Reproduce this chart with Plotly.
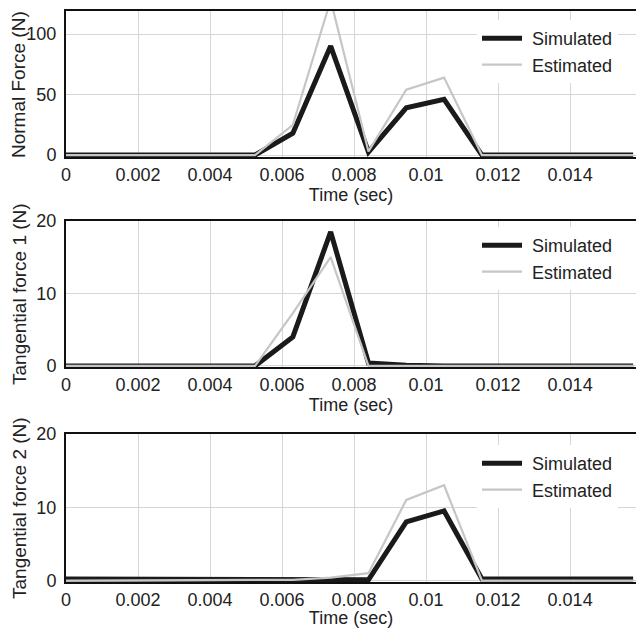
import plotly.graph_objects as go

time_s = [0.0, 0.00105, 0.0021, 0.00315, 0.0042, 0.00525, 0.0063, 0.00735,
          0.0084, 0.00945, 0.0105, 0.01155, 0.0126, 0.01365, 0.0147, 0.01575]

normal_sim = [0, 0, 0, 0, 0, 0, 18, 90, 2.5, 39, 46, 0, 0, 0, 0, 0]
normal_est = [0, 0, 0, 0, 0, 0, 25, 128, 3, 54, 64, 0, 0, 0, 0, 0]

tan1_sim = [0, 0, 0, 0, 0, 0, 4, 18.5, 0.4, 0.1, 0, 0, 0, 0, 0, 0]
tan1_est = [0, 0, 0, 0, 0, 0, 7.3, 15, 0, 0, 0, 0, 0, 0, 0, 0]

tan2_sim = [0.2, 0.2, 0.2, 0.2, 0.2, 0.2, 0.1, 0.1, 0.1, 8, 9.5, 0.2, 0.2, 0.2, 0.2, 0.2]
tan2_est = [0, 0, 0, 0, 0, 0, 0.1, 0.4, 1.0, 11, 13, 0, 0, 0, 0, 0]

x_ticks = [0, 0.002, 0.004, 0.006, 0.008, 0.01, 0.012, 0.014]
x_ticklabels = ["0", "0.002", "0.004", "0.006", "0.008", "0.01", "0.012", "0.014"]

y_titles = ["Normal Force (N)", "Tangential force 1 (N)", "Tangential force 2 (N)"]
y_ticks = [[0, 50, 100], [0, 10, 20], [0, 10, 20]]
y_ranges = [[-1.6, 119], [-0.15, 20], [-0.2, 20]]
series_names = ["Simulated", "Estimated"]

W, H = 636, 628
L = 66
panel_px = [(11, 157), (221, 367), (434, 582)]  # top, bottom in px
legend_top_px = [20, 227, 445]

FONT = "Liberation Sans, Arial, Helvetica, sans-serif"
SIM_COLOR = "#1a1a1a"
EST_COLOR = "#c6c6c6"
TXT = "#222"

series = [(normal_sim, normal_est), (tan1_sim, tan1_est), (tan2_sim, tan2_est)]

fig = go.Figure()
for i, (sim, est) in enumerate(series):
    n = "" if i == 0 else str(i + 1)
    leg = "legend" if i == 0 else f"legend{i + 1}"
    fig.add_trace(go.Scatter(x=time_s, y=sim, mode="lines", name="\u00a0" + series_names[0],
                             line=dict(color=SIM_COLOR, width=5),
                             xaxis=f"x{n}", yaxis=f"y{n}", legend=leg))
    fig.add_trace(go.Scatter(x=time_s, y=est, mode="lines", name="\u00a0" + series_names[1],
                             line=dict(color=EST_COLOR, width=2.2),
                             xaxis=f"x{n}", yaxis=f"y{n}", legend=leg))

layout = dict(
    width=W, height=H,
    margin=dict(l=L, r=0, t=0, b=0),
    paper_bgcolor="white", plot_bgcolor="white",
    font=dict(family=FONT, size=18, color=TXT),
)

annotations = []
for i in range(3):
    n = "" if i == 0 else str(i + 1)
    top, bot = panel_px[i]
    dom = [1 - bot / H, 1 - top / H]
    layout[f"xaxis{n}"] = dict(
        domain=[0, 1], anchor=f"y{n}", range=[0, 0.01583],
        tickvals=x_ticks, ticktext=x_ticklabels,
        showgrid=True, gridcolor="#d6d6d6", gridwidth=1,
        showline=True, linecolor="#111", linewidth=2, mirror=True,
        zeroline=False, ticks="", ticklabelstandoff=0,
        tickfont=dict(size=18, family=FONT, color=TXT),
        title=dict(text="Time (sec)", standoff=0, font=dict(size=18, family=FONT, color=TXT)),
        automargin=False,
    )
    layout[f"yaxis{n}"] = dict(
        domain=dom, anchor=f"x{n}", range=y_ranges[i],
        tickvals=y_ticks[i],
        showgrid=True, gridcolor="#d6d6d6", gridwidth=1,
        showline=True, linecolor="#111", linewidth=2,
        zeroline=False, ticks="", ticklabelstandoff=4,
        tickfont=dict(size=18, family=FONT, color=TXT),
        automargin=False,
    )
    annotations.append(dict(
        text=y_titles[i], textangle=-90, showarrow=False,
        xref="paper", yref="paper",
        x=(19 - L) / (W - L), xanchor="center",
        y=(dom[0] + dom[1]) / 2, yanchor="middle",
        font=dict(size=19, family=FONT, color=TXT),
    ))
    leg = "legend" if i == 0 else f"legend{i + 1}"
    layout[leg] = dict(
        x=(477 - L) / (W - L), xanchor="left",
        y=1 - legend_top_px[i] / H, yanchor="top",
        bgcolor="white", borderwidth=0,
        font=dict(size=18, family=FONT, color=TXT),
        itemwidth=40, tracegroupgap=0,
    )

layout["annotations"] = annotations
fig.update_layout(**layout)
fig.write_html("out.html", config={"displayModeBar": False},
               post_script="document.body.style.margin='0px';document.body.style.overflow='hidden';")
